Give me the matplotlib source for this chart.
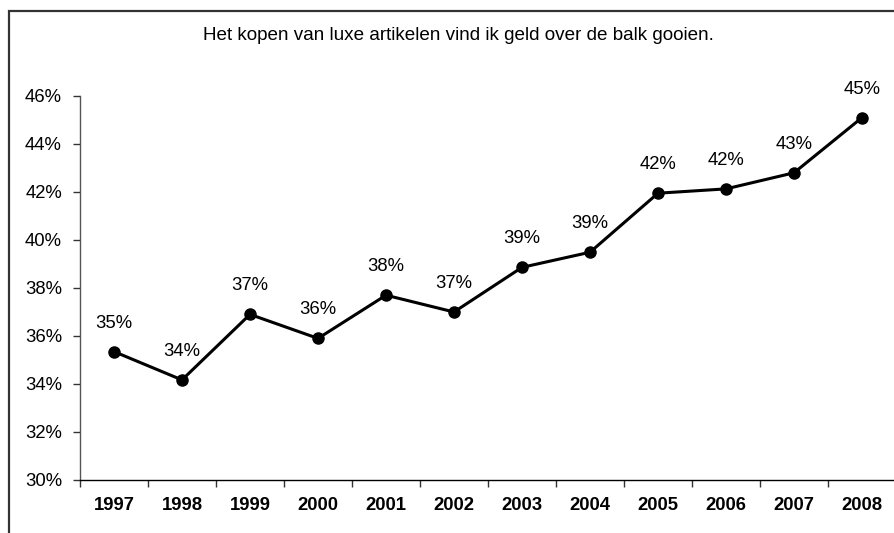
import matplotlib
matplotlib.use("Agg")
import matplotlib.pyplot as plt
from matplotlib.patches import Rectangle
from matplotlib.ticker import FixedLocator, NullFormatter

plt.rcParams['font.family'] = ['Liberation Sans', 'DejaVu Sans']

years = ["1997", "1998", "1999", "2000", "2001", "2002",
         "2003", "2004", "2005", "2006", "2007", "2008"]
share = [35.35, 34.17, 36.90, 35.90, 37.70, 37.00,
         38.86, 39.49, 41.95, 42.13, 42.80, 45.10]
yticks = [30, 32, 34, 36, 38, 40, 42, 44, 46]
title = "Het kopen van luxe artikelen vind ik geld over de balk gooien."

W, H = 894, 533
fig = plt.figure(figsize=(W / 100, H / 100), dpi=100)
fig.patch.set_facecolor("white")

# frame around the chart area (continues past the right/bottom edges)
fig.add_artist(Rectangle((9 / W, -0.1), 1.2, 1 - 11 / H + 0.1,
                         transform=fig.transFigure, fill=False,
                         edgecolor="#333333", linewidth=1.6, clip_on=False))

ax = fig.add_axes([80 / W, (H - 480) / H, 816 / W, 384 / H])
x = list(range(len(years)))
ax.plot(x, share, color="black", linewidth=2.2, marker="o",
        markersize=8, markerfacecolor="black", markeredgecolor="black",
        clip_on=False, zorder=3)

for xi, v in zip(x, share):
    ax.annotate(f"{round(v):.0f}%", (xi, v), xytext=(0, 20.5),
                textcoords="offset points", ha="center", va="center",
                fontsize=13.3, color="black")

ax.set_xlim(-0.5, len(years) - 0.5)
ax.set_ylim(yticks[0], yticks[-1])
ax.set_yticks(yticks)
ax.set_yticklabels([f"{t}%" for t in yticks], fontsize=13.3)
ax.set_xticks(x)
ax.set_xticklabels(years, fontsize=13.3, fontweight="bold")
ax.tick_params(axis="x", which="major", length=0, pad=12)
ax.xaxis.set_minor_locator(FixedLocator([i - 0.5 for i in range(len(years) + 1)]))
ax.xaxis.set_minor_formatter(NullFormatter())
ax.tick_params(axis="x", which="minor", length=5, width=1, color="#333333", direction="out")
ax.tick_params(axis="y", length=5, width=1, color="#333333", direction="out", pad=8)

for s in ("top", "right"):
    ax.spines[s].set_visible(False)
ax.spines["left"].set_color("#555555")
ax.spines["left"].set_linewidth(1)
ax.spines["bottom"].set_color("black")
ax.spines["bottom"].set_linewidth(1)

fig.text(458 / W, 1 - 35 / H, title, ha="center", va="center", fontsize=13.6)

fig.savefig("out.png", dpi=100)
